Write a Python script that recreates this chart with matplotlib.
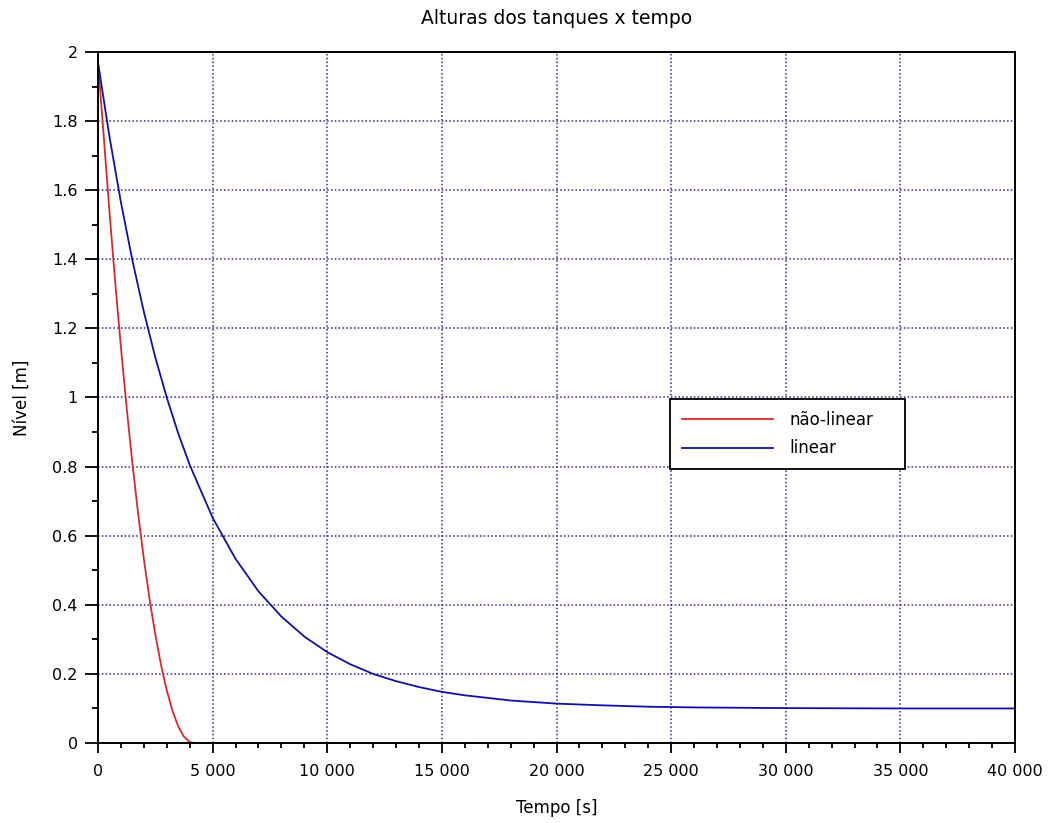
import matplotlib
matplotlib.use("Agg")
import matplotlib.pyplot as plt
from matplotlib.ticker import MultipleLocator, FuncFormatter

# nivel do tanque nao-linear
t_nl = [0, 250, 500, 750, 1000, 1250, 1500, 1750, 2000, 2250, 2500, 2750,
        3000, 3250, 3500, 3750, 4000, 4200]
h_nl = [1.97, 1.756, 1.538, 1.334, 1.145, 0.970, 0.810, 0.664, 0.533, 0.416,
        0.314, 0.226, 0.152, 0.093, 0.048, 0.018, 0.003, 0.0]

# nivel do tanque linear
t_lin = [0, 500, 1000, 1500, 2000, 2500, 3000, 3500, 4000, 5000, 6000, 7000,
         8000, 9000, 10000, 11000, 12000, 13000, 14000, 15000, 16000, 18000,
         20000, 22000, 24000, 26000, 28000, 30000, 35000, 40000]
h_lin = [1.97, 1.755, 1.565, 1.397, 1.248, 1.116, 1.0, 0.896, 0.805, 0.652,
         0.533, 0.439, 0.366, 0.308, 0.263, 0.228, 0.200, 0.179, 0.162, 0.148,
         0.138, 0.123, 0.114, 0.109, 0.105, 0.103, 0.102, 0.101, 0.100, 0.100]

W, H = 1056, 823
fig = plt.figure(figsize=(W / 100, H / 100), dpi=100)
# eixos: x de 98 a 1015 px, y de 52 a 743 px
ax = fig.add_axes([98 / W, 1 - 743 / H, (1015 - 98) / W, (743 - 52) / H])

ax.plot(t_nl, h_nl, color="#d42a2a", lw=1.3, label="não-linear")
ax.plot(t_lin, h_lin, color="#1010a8", lw=1.3, label="linear")

ax.set_xlim(0, 40000)
ax.set_ylim(0, 2)
ax.xaxis.set_major_locator(MultipleLocator(5000))
ax.xaxis.set_minor_locator(MultipleLocator(1000))
ax.yaxis.set_major_locator(MultipleLocator(0.2))
ax.yaxis.set_minor_locator(MultipleLocator(0.1))
ax.xaxis.set_major_formatter(FuncFormatter(lambda v, p: f"{int(v):,}".replace(",", " ")))
ax.yaxis.set_major_formatter(FuncFormatter(lambda v, p: f"{v:g}"))

ax.tick_params(axis="x", which="major", direction="out", length=7, width=1.3,
               labelsize=11.5, pad=8)
ax.tick_params(axis="x", which="minor", direction="out", length=3.6, width=1.3)
ax.tick_params(axis="y", which="major", direction="out", length=9.5, width=1.3,
               labelsize=11.5, pad=5)
ax.tick_params(axis="y", which="minor", direction="out", length=4.5, width=1.3)
for s in ax.spines.values():
    s.set_linewidth(1.4)

ax.grid(True, which="major", color="#2a2a9a", linestyle=(0, (1, 1.5)), lw=1.1)

fig.text((98 + 1015) / 2 / W, 1 - 18 / H, "Alturas dos tanques x tempo",
         fontsize=13.5, ha="center", va="center")
fig.text((98 + 1015) / 2 / W, 1 - 808 / H, "Tempo [s]",
         fontsize=12, ha="center", va="center")
fig.text(22 / W, 1 - 398 / H, "Nível [m]", fontsize=12, rotation=90,
         ha="center", va="center")

# caixa da legenda: 670-905 px em x, 399-474 px em y
leg_box = ((670 - 98) / 917, (743 - 474) / 691, (905 - 670) / 917, (474 - 399) / 691)
leg = ax.legend(loc="upper left", bbox_to_anchor=leg_box, mode="expand",
                fontsize=12, handlelength=5.45, frameon=True, fancybox=False,
                framealpha=1, borderpad=0.72, labelspacing=0.62,
                handletextpad=1.0, borderaxespad=0)
leg.get_frame().set_edgecolor("black")
leg.get_frame().set_linewidth(1.3)

fig.savefig("out.png", dpi=100)
